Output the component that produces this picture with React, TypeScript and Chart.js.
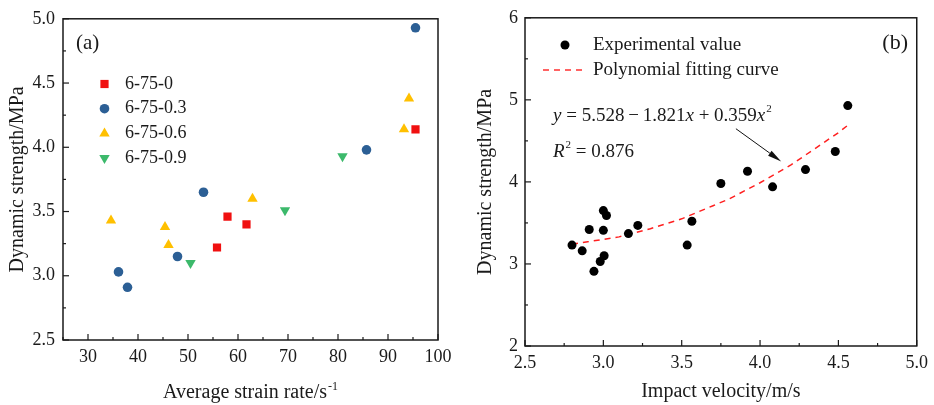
import React, { useEffect, useRef } from "react";
import { Chart, registerables } from "chart.js";

Chart.register(...registerables);

const FONT = "'Liberation Serif', 'Times New Roman', serif";
const TEXT = "#1a1a1a";

// ---------- Panel (a) data ----------
const labelsA = ["6-75-0", "6-75-0.3", "6-75-0.6", "6-75-0.9"];
const rateA0 = [55.8, 57.9, 61.7, 95.5];
const strengthA0 = [3.22, 3.46, 3.4, 4.14];
const rateA3 = [36.1, 37.9, 47.9, 53.1, 85.7, 95.5];
const strengthA3 = [3.03, 2.91, 3.15, 3.65, 3.98, 4.93];
const rateA6 = [34.6, 45.4, 46.1, 62.9, 93.2, 94.2];
const strengthA6 = [3.43, 3.38, 3.24, 3.6, 4.14, 4.38];
const rateA9 = [50.5, 69.4, 80.9];
const strengthA9 = [3.1, 3.51, 3.93];
const colorsA = ["#f01010", "#2c5f95", "#ffc000", "#3cb96b"];

// ---------- Panel (b) data ----------
const velocityB = [2.8, 2.865, 2.91, 2.94, 2.98, 3.0, 3.0, 3.005, 3.02, 3.16, 3.22, 3.535, 3.565, 3.75, 3.92, 4.08, 4.29, 4.48, 4.56];
const strengthB = [3.23, 3.16, 3.42, 2.91, 3.03, 3.41, 3.65, 3.1, 3.59, 3.37, 3.47, 3.23, 3.52, 3.98, 4.13, 3.94, 4.15, 4.37, 4.93];
const fitX = [2.8, 2.9, 3.0, 3.1, 3.2, 3.3, 3.4, 3.5, 3.6, 3.7, 3.8, 3.9, 4.0, 4.1, 4.2, 4.3, 4.4, 4.5, 4.56];
const fitY = [3.24, 3.27, 3.3, 3.33, 3.38, 3.43, 3.49, 3.55, 3.63, 3.71, 3.79, 3.89, 3.99, 4.1, 4.21, 4.34, 4.47, 4.6, 4.69];
const legendB = ["Experimental value", "Polynomial fitting curve"];
const arrowFrom = [3.846, 4.648];
const arrowTo = [4.135, 4.25];

const zip = (xs: number[], ys: number[]) => xs.map((x, i) => ({ x, y: ys[i] }));

const isMultiple = (v: number, step: number) => {
  const r = v / step;
  return Math.abs(r - Math.round(r)) < 1e-6;
};
const labelCb = (step: number, digits: number) => (value: any) =>
  isMultiple(Number(value), step) ? Number(value).toFixed(digits) : "";

const makeFramePlugin = (xMajor: number, yMajor: number) => ({
  id: "frame",
  afterDatasetsDraw(chart: any) {
    const { ctx, chartArea } = chart;
    const { left, right, top, bottom } = chartArea;
    const xs = chart.scales.x;
    const ys = chart.scales.y;
    ctx.save();
    ctx.strokeStyle = "#1a1a1a";
    ctx.lineWidth = 1.2;
    xs.ticks.forEach((t: any) => {
      const px = xs.getPixelForValue(t.value);
      const len = isMultiple(t.value, xMajor) ? 6 : 3;
      ctx.beginPath();
      ctx.moveTo(px, bottom);
      ctx.lineTo(px, bottom - len);
      ctx.stroke();
    });
    ys.ticks.forEach((t: any) => {
      const py = ys.getPixelForValue(t.value);
      const len = isMultiple(t.value, yMajor) ? 6 : 3;
      ctx.beginPath();
      ctx.moveTo(left, py);
      ctx.lineTo(left + len, py);
      ctx.stroke();
    });
    ctx.lineWidth = 1.5;
    ctx.strokeRect(left, top, right - left, bottom - top);
    ctx.restore();
  },
});

const drawMarker = (ctx: any, style: string, x: number, y: number, r: number, color: string, rotation = 0) => {
  ctx.save();
  ctx.fillStyle = color;
  ctx.beginPath();
  if (style === "rect") {
    const s = r * Math.SQRT1_2;
    ctx.rect(x - s, y - s, 2 * s, 2 * s);
  } else if (style === "circle") {
    ctx.arc(x, y, r, 0, Math.PI * 2);
  } else {
    let rad = (rotation * Math.PI) / 180;
    ctx.moveTo(x + Math.sin(rad) * r, y - Math.cos(rad) * r);
    rad += (2 * Math.PI) / 3;
    ctx.lineTo(x + Math.sin(rad) * r, y - Math.cos(rad) * r);
    rad += (2 * Math.PI) / 3;
    ctx.lineTo(x + Math.sin(rad) * r, y - Math.cos(rad) * r);
    ctx.closePath();
  }
  ctx.fill();
  ctx.restore();
};

const styleA = [
  { style: "rect", r: 5.8, rot: 0 },
  { style: "circle", r: 4.8, rot: 0 },
  { style: "triangle", r: 6, rot: 0 },
  { style: "triangle", r: 6, rot: 180 },
];

const annotA = {
  id: "annotA",
  afterDraw(chart: any) {
    const { ctx, chartArea } = chart;
    ctx.save();
    ctx.fillStyle = TEXT;
    ctx.textBaseline = "middle";
    ctx.textAlign = "left";
    ctx.font = `21px ${FONT}`;
    ctx.fillText("(a)", 76, 43);
    // legend
    ctx.font = `18px ${FONT}`;
    labelsA.forEach((lab, i) => {
      const y = 84 + i * 24.7;
      const s = styleA[i];
      drawMarker(ctx, s.style, 104.5, y, s.r, colorsA[i], s.rot);
      ctx.fillStyle = TEXT;
      ctx.fillText(lab, 125, y);
    });
    // x title with superscript
    const main = "Average strain rate/s";
    const sup = "-1";
    ctx.font = `20px ${FONT}`;
    const wMain = ctx.measureText(main).width;
    ctx.font = `12px ${FONT}`;
    const wSup = ctx.measureText(sup).width;
    const cx = (chartArea.left + chartArea.right) / 2;
    const x0 = cx - (wMain + wSup + 1) / 2;
    ctx.textBaseline = "alphabetic";
    ctx.font = `20px ${FONT}`;
    ctx.fillText(main, x0, 398);
    ctx.font = `12px ${FONT}`;
    ctx.fillText(sup, x0 + wMain + 1, 390);
    ctx.restore();
  },
};

const annotB = {
  id: "annotB",
  afterDraw(chart: any) {
    const { ctx } = chart;
    const xs = chart.scales.x;
    const ys = chart.scales.y;
    ctx.save();
    ctx.fillStyle = TEXT;
    ctx.textBaseline = "middle";
    ctx.font = `22px ${FONT}`;
    ctx.textAlign = "right";
    ctx.fillText("(b)", 442, 43);
    ctx.textAlign = "left";
    // legend
    drawMarker(ctx, "circle", 99, 45, 4.5, "#000");
    ctx.font = `19px ${FONT}`;
    ctx.fillStyle = TEXT;
    ctx.fillText(legendB[0], 127, 45);
    ctx.save();
    ctx.strokeStyle = "#ff3030";
    ctx.lineWidth = 1.5;
    ctx.setLineDash([6, 5]);
    ctx.beginPath();
    ctx.moveTo(77, 70);
    ctx.lineTo(121, 70);
    ctx.stroke();
    ctx.restore();
    ctx.fillText(legendB[1], 127, 70);

    // equation
    const segs: [string, string][] = [
      ["y", "italic"],
      [" = 5.528\u2009\u2212\u20091.821", ""],
      ["x", "italic"],
      [" + 0.359", ""],
      ["x", "italic"],
      ["2", "sup"],
    ];
    let x = 87;
    const baseY = 121;
    ctx.textBaseline = "alphabetic";
    segs.forEach(([t, st]) => {
      if (st === "sup") {
        ctx.font = `11px ${FONT}`;
        ctx.fillText(t, x + 1, baseY - 9);
        x += ctx.measureText(t).width + 1;
      } else {
        ctx.font = `${st === "italic" ? "italic " : ""}19px ${FONT}`;
        ctx.fillText(t, x, baseY);
        x += ctx.measureText(t).width;
      }
    });
    // R^2
    let rx = 87;
    const rY = 157;
    ctx.font = `italic 19px ${FONT}`;
    ctx.fillText("R", rx, rY);
    rx += ctx.measureText("R").width;
    ctx.font = `11px ${FONT}`;
    ctx.fillText("2", rx + 1, rY - 9);
    rx += ctx.measureText("2").width + 1;
    ctx.font = `19px ${FONT}`;
    ctx.fillText(" = 0.876", rx, rY);

    // arrow
    const x1 = xs.getPixelForValue(arrowFrom[0]);
    const y1 = ys.getPixelForValue(arrowFrom[1]);
    const x2 = xs.getPixelForValue(arrowTo[0]);
    const y2 = ys.getPixelForValue(arrowTo[1]);
    const ang = Math.atan2(y2 - y1, x2 - x1);
    const hl = 14;
    const hw = 3;
    ctx.strokeStyle = "#111";
    ctx.fillStyle = "#111";
    ctx.lineWidth = 1;
    ctx.beginPath();
    ctx.moveTo(x1, y1);
    ctx.lineTo(x2 - Math.cos(ang) * hl, y2 - Math.sin(ang) * hl);
    ctx.stroke();
    ctx.beginPath();
    ctx.moveTo(x2, y2);
    const bx = x2 - Math.cos(ang) * hl;
    const by = y2 - Math.sin(ang) * hl;
    ctx.lineTo(bx + Math.sin(ang) * hw, by - Math.cos(ang) * hw);
    ctx.lineTo(bx - Math.sin(ang) * hw, by + Math.cos(ang) * hw);
    ctx.closePath();
    ctx.fill();
    ctx.restore();
  },
};

const tickFont = { family: FONT, size: 18 };
const titleFont = { family: FONT, size: 20 };

export default function App() {
  const refA = useRef<HTMLCanvasElement | null>(null);
  const refB = useRef<HTMLCanvasElement | null>(null);

  useEffect(() => {
    const chartA = new Chart(refA.current as HTMLCanvasElement, {
      type: "scatter",
      data: {
        datasets: [
          { label: labelsA[0], data: zip(rateA0, strengthA0), pointStyle: "rect", pointRadius: 5.8, backgroundColor: colorsA[0], borderWidth: 0 },
          { label: labelsA[1], data: zip(rateA3, strengthA3), pointStyle: "circle", pointRadius: 4.8, backgroundColor: colorsA[1], borderWidth: 0 },
          { label: labelsA[2], data: zip(rateA6, strengthA6), pointStyle: "triangle", pointRadius: 6, backgroundColor: colorsA[2], borderWidth: 0 },
          { label: labelsA[3], data: zip(rateA9, strengthA9), pointStyle: "triangle", rotation: 180, pointRadius: 6, backgroundColor: colorsA[3], borderWidth: 0 },
        ] as any,
      },
      options: {
        animation: false,
        responsive: false,
        layout: { padding: { top: 16, right: 28, left: 0, bottom: 0 } },
        plugins: { legend: { display: false }, tooltip: { enabled: false } },
        scales: {
          x: {
            type: "linear",
            min: 25,
            max: 100,
            afterFit: (s: any) => { s.height = 65; },
            grid: { display: false, drawTicks: false },
            border: { display: false },
            ticks: { stepSize: 5, autoSkip: false, maxRotation: 0, padding: 6, color: TEXT, font: tickFont, callback: labelCb(10, 0) },
          },
          y: {
            type: "linear",
            min: 2.5,
            max: 5.0,
            afterFit: (s: any) => { s.width = 63; },
            grid: { display: false, drawTicks: false },
            border: { display: false },
            ticks: { stepSize: 0.25, autoSkip: false, padding: 8, color: TEXT, font: tickFont, callback: labelCb(0.5, 1) },
            title: { display: true, text: "Dynamic strength/MPa", color: TEXT, font: titleFont, padding: { top: 6, bottom: 0 } },
          },
        },
      } as any,
      plugins: [makeFramePlugin(10, 0.5), annotA],
    });

    const chartB = new Chart(refB.current as HTMLCanvasElement, {
      type: "scatter",
      data: {
        datasets: [
          { label: legendB[0], data: zip(velocityB, strengthB), pointStyle: "circle", pointRadius: 4.5, backgroundColor: "#000", borderWidth: 0 },
          { label: legendB[1], data: zip(fitX, fitY), showLine: true, pointRadius: 0, borderColor: "#ff2020", borderWidth: 1.5, borderDash: [6, 5], fill: false, tension: 0 },
        ] as any,
      },
      options: {
        animation: false,
        responsive: false,
        layout: { padding: { top: 17, right: 14, left: 0, bottom: 0 } },
        plugins: { legend: { display: false }, tooltip: { enabled: false } },
        scales: {
          x: {
            type: "linear",
            min: 2.5,
            max: 5.0,
            afterFit: (s: any) => { s.height = 59; },
            grid: { display: false, drawTicks: false },
            border: { display: false },
            ticks: { stepSize: 0.25, autoSkip: false, maxRotation: 0, padding: 6, color: TEXT, font: tickFont, callback: labelCb(0.5, 1) },
            title: { display: true, text: "Impact velocity/m/s", color: TEXT, font: titleFont, padding: { top: 0, bottom: 1 } },
          },
          y: {
            type: "linear",
            min: 2,
            max: 6,
            afterFit: (s: any) => { s.width = 59; },
            grid: { display: false, drawTicks: false },
            border: { display: false },
            ticks: { stepSize: 0.5, autoSkip: false, padding: 7, color: TEXT, font: tickFont, callback: labelCb(1, 0) },
            title: { display: true, text: "Dynamic strength/MPa", color: TEXT, font: titleFont, padding: { top: 8, bottom: 0 } },
          },
        },
      } as any,
      plugins: [makeFramePlugin(0.5, 1), annotB],
    });

    return () => {
      chartA.destroy();
      chartB.destroy();
    };
  }, []);

  return (
    <div style={{ position: "absolute", left: 0, top: 0, width: 934, height: 405, background: "#fff" }}>
      <canvas ref={refA} width={466} height={405} style={{ position: "absolute", left: 0, top: 0, display: "block" }} />
      <canvas ref={refB} width={468} height={405} style={{ position: "absolute", left: 466, top: 0, display: "block" }} />
    </div>
  );
}
